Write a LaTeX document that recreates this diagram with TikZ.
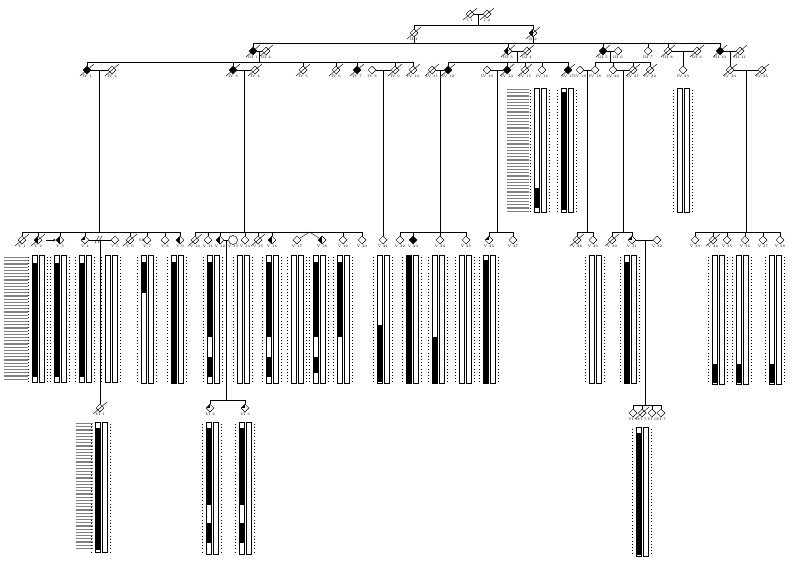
\documentclass[tikz,border=0pt]{standalone}
\usepackage{tikz}
\usetikzlibrary{shapes.geometric,arrows.meta}

\tikzset{
  ind/.style={draw, shape=diamond, minimum size=8pt, inner sep=0pt, fill=white, line width=0.5pt},
  fem/.style={draw, shape=circle, minimum size=9pt, inner sep=0pt, fill=white, line width=0.5pt},
  full/.style={fill=black},
  half/.style={path picture={\fill[black] (path picture bounding box.south west) rectangle (path picture bounding box.north);}},
  quart/.style={path picture={\fill[black] (path picture bounding box.west) rectangle (path picture bounding box.north);}},
  lab/.style={font=\fontsize{3.6}{4}\selectfont, inner sep=0.3pt},
  hapbar/.style={draw, line width=0.5pt, fill=white},
  allele/.style={line width=1pt, dash pattern=on 1.1pt off 2.1pt},
  mname/.style={black!50, dash pattern=on 1.2pt off 2pt},
}

% slash for a deceased person
\newcommand{\deceased}[1]{\draw[line width=0.45pt] (#1.center) ++(-7,6) -- ++(14,-12);}
% pair of haplotype bars: x, top, bottom
\newcommand{\hap}[3]{%
  \draw[allele] (#1-9.5,#2+1.5) -- (#1-9.5,#3);
  \draw[allele] (#1+9.5,#2+1.5) -- (#1+9.5,#3);
  \draw[hapbar] (#1-6,#2) rectangle (#1-0.8,#3);
  \draw[hapbar] (#1+0.8,#2) rectangle (#1+6,#3);}
% black piece of the left bar: x, from, to
\newcommand{\blk}[3]{\fill (#1-6,#2) rectangle (#1-0.8,#3);}
% column of marker names: x centre, width, top, bottom
\newcommand{\markers}[4]{\draw[mname, line width=#2pt] (#1,#3) -- (#1,#4);}

\begin{document}
\begin{tikzpicture}[x=1pt, y=-1pt]
\useasboundingbox[fill=white] (0,0) rectangle (800,565);

		% generation I
		\node (I1) at (470,14) [ind, label={[lab]below:I 1}] {};
		\node (I2) at (487,14) [ind, label={[lab]below:I 2}] {};

		% generation II
		\node (II1) at (414,33) [ind, label={[lab]below:II 1}] {};
		\node (II2) at (533,33) [ind, half, label={[lab]below:II 2}] {};

		% generation III
		\node (III1) at (253,51) [ind, full, label={[lab]below:III 1}] {};
		\node (III2) at (266,51) [ind, label={[lab]below:III 2}] {};
		\node (III3) at (508,51) [ind, half, label={[lab]below:III 3}] {};
		\node (III4) at (527,51) [ind, label={[lab]below:III 4}] {};
		\node (III5) at (603,51) [ind, full, label={[lab]below:III 5}] {};
		\node (III6) at (618,51) [ind, label={[lab]below:III 6}] {};
		\node (III7) at (648,51) [ind, label={[lab]below:III 7}] {};
		\node (III8) at (668,51) [ind, label={[lab]below:III 8}] {};
		\node (III9) at (697,51) [ind, label={[lab]below:III 9}] {};
		\node (III10) at (720,51) [ind, full, label={[lab]below:III 10}] {};
		\node (III11) at (740,51) [ind, label={[lab]below:III 11}] {};

		% generation IV
		\node (IV1) at (87,70) [ind, full, label={[lab]below:IV 1}] {};
		\node (IV2) at (112,70) [ind, label={[lab]below:IV 2}] {};
		\node (IV3) at (233,70) [ind, full, label={[lab]below:IV 3}] {};
		\node (IV4) at (255,70) [ind, label={[lab]below:IV 4}] {};
		\node (IV5) at (303,70) [ind, label={[lab]below:IV 5}] {};
		\node (IV6) at (336,70) [ind, label={[lab]below:IV 6}] {};
		\node (IV7) at (357,70) [ind, full, label={[lab]below:IV 7}] {};
		\node (IV8) at (372,70) [ind, label={[lab]below:IV 8}] {};
		\node (IV9) at (395,70) [ind, label={[lab]below:IV 9}] {};
		\node (IV10) at (413,70) [ind, label={[lab]below:IV 10}] {};
		\node (IV11) at (432,70) [ind, label={[lab]below:IV 11}] {};
		\node (IV12) at (448,70) [ind, full, label={[lab]below:IV 12}] {};
		\node (IV13) at (487,70) [ind, label={[lab]below:IV 13}] {};
		\node (IV14) at (507,70) [ind, full, label={[lab]below:IV 14}] {};
		\node (IV15) at (525,70) [ind, label={[lab]below:IV 15}] {};
		\node (IV16) at (542,70) [ind, label={[lab]below:IV 16}] {};
		\node (IV17) at (568,70) [ind, full, label={[lab]below:IV 17}] {};
		\node (IV19) at (580,70) [ind, label={[lab]below:IV 19}] {};
		\node (IV18) at (595,70) [ind, label={[lab]below:IV 18}] {};
		\node (IV20) at (613,70) [ind, label={[lab]below:IV 20}] {};
		\node (IV21) at (633,70) [ind, label={[lab]below:IV 21}] {};
		\node (IV22) at (650,70) [ind, label={[lab]below:IV 22}] {};
		\node (IV23) at (683,70) [ind, label={[lab]below:IV 23}] {};
		\node (IV24) at (730,70) [ind, label={[lab]below:IV 24}] {};
		\node (IV25) at (762,70) [ind, label={[lab]below:IV 25}] {};

		% generation V
		\node (V1) at (22,240) [ind, label={[lab]below:V 1}] {};
		\node (V2) at (38,240) [ind, half, label={[lab]below:V 2}] {};
		\node (V3) at (60,240) [ind, half, label={[lab]below:V 3}] {};
		\node (V4) at (85,240) [ind, quart, label={[lab]below:V 4}] {};
		\node (V5) at (115,240) [ind, label={[lab]below:V 5}] {};
		\node (V6) at (130,240) [ind, label={[lab]below:V 6}] {};
		\node (V7) at (147,240) [ind, label={[lab]below:V 7}] {};
		\node (V8) at (165,240) [ind, label={[lab]below:V 8}] {};
		\node (V9) at (180,240) [ind, half, label={[lab]below:V 9}] {};
		\node (V10) at (195,240) [ind, label={[lab]below:V 10}] {};
		\node (V11) at (208,240) [ind, label={[lab]below:V 11}] {};
		\node (V12) at (220,240) [ind, half, label={[lab]below:V 12}] {};
		\node (V13) at (233,240) [fem, label={[lab]below:V 13}] {};
		\node (V14) at (245,240) [ind, label={[lab]below:V 14}] {};
		\node (V15) at (258,240) [ind, label={[lab]below:V 15}] {};
		\node (V16) at (272,240) [ind, half, label={[lab]below:V 16}] {};
		\node (V17) at (297,240) [ind, label={[lab]below:V 17}] {};
		\node (V18) at (322,240) [ind, half, label={[lab]below:V 18}] {};
		\node (V19) at (343,240) [ind, label={[lab]below:V 19}] {};
		\node (V20) at (362,240) [ind, label={[lab]below:V 20}] {};
		\node (V21) at (383,240) [ind, label={[lab]below:V 21}] {};
		\node (V22) at (400,240) [ind, label={[lab]below:V 22}] {};
		\node (V23) at (413,240) [ind, full, label={[lab]below:V 23}] {};
		\node (V24) at (440,240) [ind, label={[lab]below:V 24}] {};
		\node (V25) at (466,240) [ind, label={[lab]below:V 25}] {};
		\node (V26) at (489,240) [ind, quart, label={[lab]below:V 26}] {};
		\node (V27) at (513,240) [ind, label={[lab]below:V 27}] {};
		\node (V28) at (577,240) [ind, label={[lab]below:V 28}] {};
		\node (V29) at (593,240) [ind, label={[lab]below:V 29}] {};
		\node (V30) at (612,240) [ind, label={[lab]below:V 30}] {};
		\node (V31) at (632,240) [ind, quart, label={[lab]below:V 31}] {};
		\node (V32) at (657,240) [ind, label={[lab]below:V 32}] {};
		\node (V33) at (695,240) [ind, label={[lab]below:V 33}] {};
		\node (V34) at (713,240) [ind, label={[lab]below:V 34}] {};
		\node (V35) at (727,240) [ind, label={[lab]below:V 35}] {};
		\node (V36) at (745,240) [ind, label={[lab]below:V 36}] {};
		\node (V37) at (763,240) [ind, label={[lab]below:V 37}] {};
		\node (V38) at (780,240) [ind, label={[lab]below:V 38}] {};
		\node (SB) at (142,240) [lab] {SB};

		% generation VI
		\node (VI1) at (100,408) [ind, label={[lab]below:VI 1}] {};
		\node (VI2) at (210,408) [ind, quart, label={[lab]below:VI 2}] {};
		\node (VI3) at (245,408) [ind, quart, label={[lab]below:VI 3}] {};
		\node (VI4) at (633,413) [ind, label={[lab]below:VI 4}] {};
		\node (VI5) at (642,413) [ind, label={[lab]below:VI 5}] {};
		\node (VI6) at (652,413) [ind, label={[lab]below:VI 6}] {};
		\node (VI7) at (661,413) [ind, label={[lab]below:VI 7}] {};

		% couples and sibships
		\coordinate (m1) at (478.5,14);
		\coordinate (s1) at (478.5,25);
		\draw (I1) -- (I2);
		\draw (m1) -- (s1);
		\draw (s1) -| (II1);
		\draw (s1) -| (II2);

		\coordinate (s2) at (414,43);
		\coordinate (s3) at (533,43);
		\draw (II1) -- (s2);
		\draw (II2) -- (s3);
		\draw (s2) -- (s3);
		\draw (s2) -| (III1);
		\draw (s2) -| (III3);
		\draw (s3) -| (III5);
		\draw (s3) -| (III7);
		\draw (s3) -| (III8);
		\draw (s3) -| (III10);

		\draw (III1) -- (III2);
		\draw (III3) -- (III4);
		\draw (III5) -- (III6);
		\draw (III8) -- (III9);
		\draw (III10) -- (III11);
		\coordinate (m4) at (259.5,51);
		\coordinate (s4) at (259.5,62);
		\draw (m4) -- (s4);
		\foreach \c in {IV1,IV3,IV5,IV6,IV7,IV9,IV10} {\draw (s4) -| (\c);}
		\coordinate (m5) at (517.5,51);
		\coordinate (s5) at (517.5,62);
		\draw (m5) -- (s5);
		\foreach \c in {IV12,IV14,IV15,IV16,IV17} {\draw (s5) -| (\c);}
		\coordinate (m6) at (610.5,51);
		\coordinate (s6) at (610.5,62);
		\draw (m6) -- (s6);
		\foreach \c in {IV18,IV20,IV21,IV22} {\draw (s6) -| (\c);}
		\coordinate (m7) at (683,51);
		\draw (m7) -- (IV23);
		\coordinate (m8) at (730,51);
		\draw (m8) -- (IV24);

		\draw (IV1) -- (IV2);
		\draw (IV3) -- (IV4);
		\draw (IV8) -- (IV9);
		\draw (IV11) -- (IV12);
		\draw (IV13) -- (IV14);
		\draw (IV19) -- (IV18);
		\draw (IV20) -- (IV21);
		\draw (IV24) -- (IV25);
		\coordinate (m9) at (99.5,70);
		\coordinate (s9) at (99.5,232);
		\draw (m9) -- (s9);
		\foreach \c in {V1,V2,V3,V4,V6,V7,V8,V9} {\draw (s9) -| (\c);}
		\coordinate (m10) at (244,70);
		\coordinate (s10) at (244,232);
		\coordinate (tw) at (309.5,232);
		\draw (m10) -- (s10);
		\foreach \c in {V10,V11,V12,V14,V15,V16,V19,V20} {\draw (s10) -| (\c);}
		\draw (s10) -- (tw);
		\draw (tw) -- (V17);
		\draw (tw) -- (V18);
		\coordinate (m11) at (383,70);
		\draw (m11) -- (V21);
		\coordinate (m12) at (440,70);
		\coordinate (s12) at (440,232);
		\draw (m12) -- (s12);
		\foreach \c in {V22,V23,V24,V25} {\draw (s12) -| (\c);}
		\coordinate (m13) at (497,70);
		\coordinate (s13) at (497,232);
		\draw (m13) -- (s13);
		\foreach \c in {V26,V27} {\draw (s13) -| (\c);}
		\coordinate (m14) at (587.5,70);
		\coordinate (s14) at (587.5,232);
		\draw (m14) -- (s14);
		\foreach \c in {V28,V29} {\draw (s14) -| (\c);}
		\coordinate (m15) at (623,70);
		\coordinate (s15) at (623,232);
		\draw (m15) -- (s15);
		\foreach \c in {V30,V31} {\draw (s15) -| (\c);}
		\coordinate (m16) at (746,70);
		\coordinate (s16) at (746,232);
		\draw (m16) -- (s16);
		\foreach \c in {V33,V34,V35,V36,V37,V38} {\draw (s16) -| (\c);}

		\draw (V4) -- (V5);
		\draw (95,243) -- (99,236);
		\draw (98,243) -- (102,236);
		\draw (V12) -- (V13);
		\draw (V31) -- (V32);
		\coordinate (m17) at (100,240);
		\draw (m17) -- (VI1);
		\coordinate (m18) at (226.5,240);
		\coordinate (s18) at (226.5,400);
		\draw (m18) -- (s18);
		\foreach \c in {VI2,VI3} {\draw (s18) -| (\c);}
		\coordinate (m19) at (645,240);
		\coordinate (s19) at (645,405);
		\draw (m19) -- (s19);
		\foreach \c in {VI4,VI5,VI6,VI7} {\draw (s19) -| (\c);}

		\coordinate (arr) at (46,240);
		\draw [-{Stealth[length=2.5pt,width=2.5pt]}] (arr) -- (V3);

		% slashes
		\foreach \p in {I1,I2,II1,II2,III1,III2,III3,III4,III5,III8,III9,III10,III11,
		  IV1,IV2,IV3,IV4,IV5,IV6,IV7,IV9,IV10,IV11,IV12,IV14,IV15,IV17,IV21,IV22,IV24,IV25,
		  V1,V2,V6,V10,V15,V28,V30,V34,VI1,VI5} {\deceased{\p}}

		% haplotypes, generation IV
		\markers{518}{22}{89}{211}
		\hap{540}{88}{212} \blk{540}{188}{208}
		\hap{567}{88}{212} \blk{567}{92}{210}
		\hap{683}{88}{212}

		% haplotypes, generation V
		\markers{16}{24}{257}{380}
		\hap{38}{255}{382} \blk{38}{263}{377}
		\hap{60}{255}{382} \blk{60}{263}{377}
		\hap{85}{255}{382} \blk{85}{263}{377}
		\hap{111}{255}{382}
		\hap{147}{255}{383} \blk{147}{262}{293}
		\hap{177}{255}{383} \blk{177}{262}{383}
		\hap{213}{255}{383} \blk{213}{262}{337} \blk{213}{357}{377}
		\hap{243}{255}{383}
		\hap{272}{255}{383} \blk{272}{262}{337} \blk{272}{357}{377}
		\hap{297}{255}{383}
		\hap{319}{255}{383} \blk{319}{262}{337} \blk{319}{357}{373}
		\hap{343}{255}{383} \blk{343}{262}{337}
		\hap{383}{255}{383} \blk{383}{325}{382}
		\hap{412}{255}{383} \blk{412}{256}{383}
		\hap{438}{255}{383} \blk{438}{337}{383}
		\hap{465}{255}{383}
		\hap{489}{255}{383} \blk{489}{260}{383}
		\hap{595}{255}{383}
		\hap{630}{255}{383} \blk{630}{262}{383}
		\hap{718}{255}{384} \blk{718}{364}{383}
		\hap{742}{255}{384} \blk{742}{364}{383}
		\hap{775}{255}{384} \blk{775}{364}{383}

		% haplotypes, generation VI
		\markers{84}{17}{423}{549}
		\hap{101}{422}{552} \blk{101}{428}{550}
		\hap{212}{422}{554} \blk{212}{428}{505} \blk{212}{523}{543}
		\hap{245}{422}{554} \blk{245}{428}{505} \blk{245}{523}{543}
		\hap{642}{427}{556} \blk{642}{433}{555}
	\end{tikzpicture}
\end{document}
